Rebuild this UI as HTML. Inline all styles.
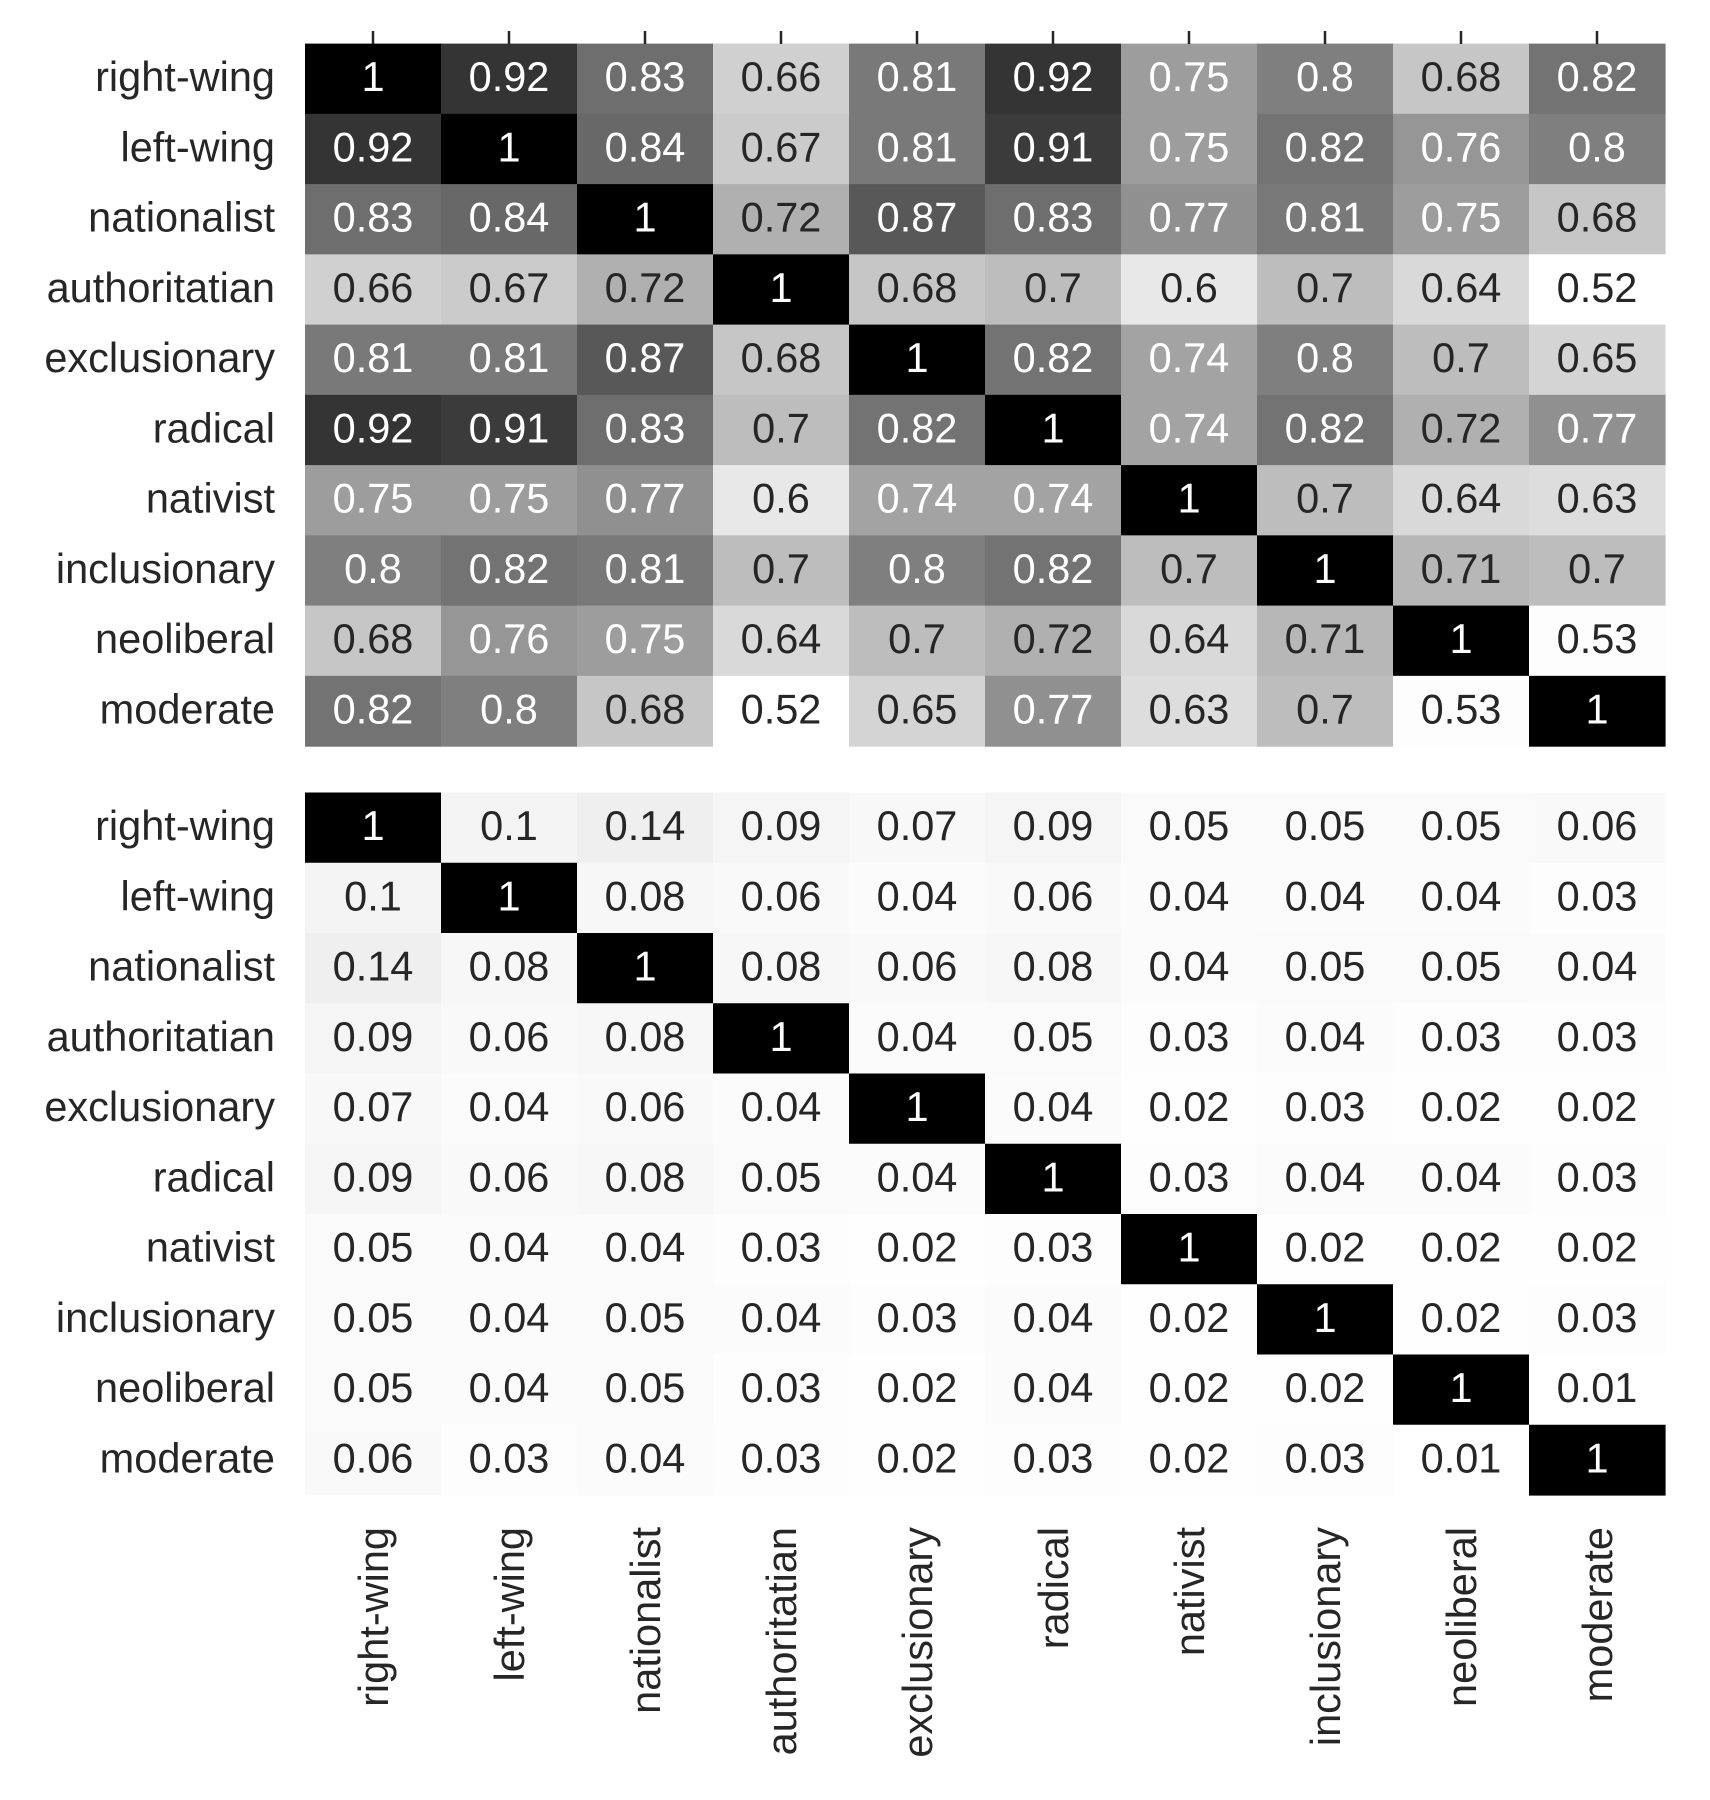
<!DOCTYPE html>
<html><head><meta charset="utf-8"><style>
html,body{margin:0;padding:0;background:#fff;}
svg{display:block;font-family:"Liberation Sans",Arial,sans-serif;}
</style></head><body>
<svg id="chart" width="1710" height="1800" viewBox="0 0 1710 1800" xmlns="http://www.w3.org/2000/svg"></svg>
<script>
const categories = ["right-wing","left-wing","nationalist","authoritatian","exclusionary","radical","nativist","inclusionary","neoliberal","moderate"];
const topValues = [
[1,.92,.83,.66,.81,.92,.75,.8,.68,.82],
[.92,1,.84,.67,.81,.91,.75,.82,.76,.8],
[.83,.84,1,.72,.87,.83,.77,.81,.75,.68],
[.66,.67,.72,1,.68,.7,.6,.7,.64,.52],
[.81,.81,.87,.68,1,.82,.74,.8,.7,.65],
[.92,.91,.83,.7,.82,1,.74,.82,.72,.77],
[.75,.75,.77,.6,.74,.74,1,.7,.64,.63],
[.8,.82,.81,.7,.8,.82,.7,1,.71,.7],
[.68,.76,.75,.64,.7,.72,.64,.71,1,.53],
[.82,.8,.68,.52,.65,.77,.63,.7,.53,1]];
const bottomValues = [
[1,.1,.14,.09,.07,.09,.05,.05,.05,.06],
[.1,1,.08,.06,.04,.06,.04,.04,.04,.03],
[.14,.08,1,.08,.06,.08,.04,.05,.05,.04],
[.09,.06,.08,1,.04,.05,.03,.04,.03,.03],
[.07,.04,.06,.04,1,.04,.02,.03,.02,.02],
[.09,.06,.08,.05,.04,1,.03,.04,.04,.03],
[.05,.04,.04,.03,.02,.03,1,.02,.02,.02],
[.05,.04,.05,.04,.03,.04,.02,1,.02,.03],
[.05,.04,.05,.03,.02,.04,.02,.02,1,.01],
[.06,.03,.04,.03,.02,.03,.02,.03,.01,1]];

const svg = document.getElementById('chart');
const NS = 'http://www.w3.org/2000/svg';
const X0 = 305, X1 = 1665, CW = (X1 - X0) / categories.length;
const RH = 70.25;
const FS = 41.5;
const greys = [255,240,217,189,150,115,82,37,0];
function xPos(i){ return X0 + i*CW; }
function yPos(top, j){ return top + j*RH; }
function grey(t){
  t = Math.max(0, Math.min(1, t)) * 8;
  const i = Math.min(7, Math.floor(t)), f = t - i;
  return Math.round(greys[i] + (greys[i+1]-greys[i])*f);
}
function lum(g){ const c = g/255; return c <= 0.03928 ? c/12.92 : Math.pow((c+0.055)/1.055, 2.4); }
function fmt(v){ return String(+v.toFixed(2)); }

function drawHeatmap(values, top, name){
  const g = document.createElementNS(NS,'g');
  
  
  svg.appendChild(g);
  const flat = values.flat();
  const vmin = Math.min(...flat), vmax = Math.max(...flat);
  values.forEach((row, r) => {
    row.forEach((v, c) => {
      const gv = grey((v - vmin) / (vmax - vmin));
      const rect = document.createElementNS(NS,'rect');
      rect.setAttribute('x', xPos(c)); rect.setAttribute('y', yPos(top, r));
      rect.setAttribute('width', CW + 0.6); rect.setAttribute('height', RH + 0.6);
      rect.setAttribute('fill', `rgb(${gv},${gv},${gv})`);
      
      
      g.appendChild(rect);
      const t = document.createElementNS(NS,'text');
      t.setAttribute('x', xPos(c) + CW/2); t.setAttribute('y', yPos(top, r) + RH/2 + 12.5);
      t.setAttribute('text-anchor', 'middle'); t.setAttribute('font-size', FS);
      t.setAttribute('fill', lum(gv) > 0.408 ? '#262626' : '#ffffff');
      
      
      t.textContent = fmt(v);
      g.appendChild(t);
    });
    const l = document.createElementNS(NS,'text');
    l.setAttribute('x', 275); l.setAttribute('y', yPos(top, r) + RH/2 + 12.5);
    l.setAttribute('text-anchor', 'end'); l.setAttribute('font-size', FS); l.setAttribute('fill', '#262626');
    
    
    l.textContent = categories[r];
    g.appendChild(l);
  });
}
drawHeatmap(topValues, 43.6, 'top-heatmap');
drawHeatmap(bottomValues, 792.5, 'bottom-heatmap');

categories.forEach((c, i) => {
  const cx = xPos(i) + CW/2;
  const tk = document.createElementNS(NS,'line');
  tk.setAttribute('x1', cx); tk.setAttribute('x2', cx);
  tk.setAttribute('y1', 31); tk.setAttribute('y2', 44);
  tk.setAttribute('stroke', '#262626'); tk.setAttribute('stroke-width', '2.5');
  
  
  svg.appendChild(tk);
  const t = document.createElementNS(NS,'text');
  t.setAttribute('transform', `translate(${cx + 15},1527) rotate(-90)`);
  t.setAttribute('text-anchor', 'end'); t.setAttribute('font-size', FS); t.setAttribute('fill', '#262626');
  
  
  t.textContent = c;
  svg.appendChild(t);
});
</script>
</body></html>
